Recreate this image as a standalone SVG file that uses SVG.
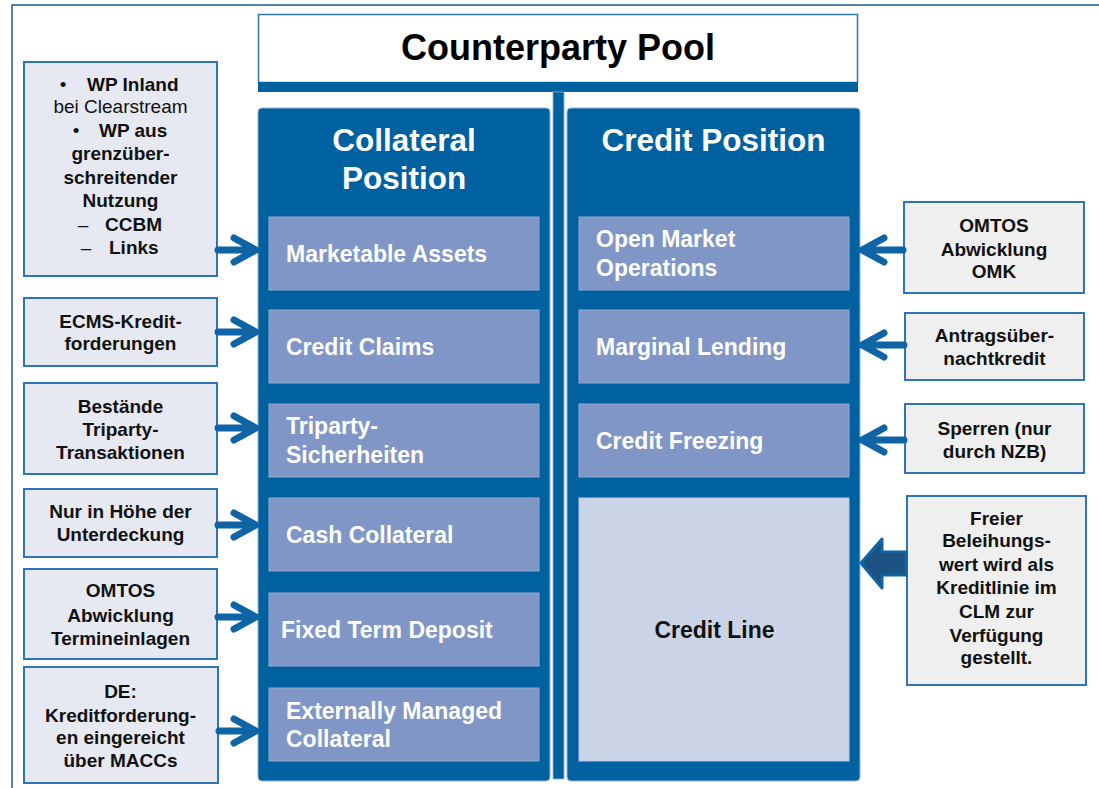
<svg xmlns="http://www.w3.org/2000/svg" width="1099" height="788" viewBox="0 0 1099 788">
<defs>
<style>
text{font-family:"Liberation Sans",Arial,sans-serif;}
.frame{fill:none;stroke:#1d5c8c;stroke-width:1.5;}
.col{fill:#0061a0;stroke:#8fb3d6;stroke-width:1;}
.item{fill:#7f96c6;stroke:#93a8d2;stroke-width:1;}
.itemtxt{fill:#ffffff;font-weight:bold;font-size:23px;}
.coltxt{fill:#ffffff;font-weight:bold;font-size:31.5px;text-anchor:middle;}
.lbox{fill:#e6e9f1;stroke:#2f74b5;stroke-width:2;}
.rbox{fill:#efefef;stroke:#2f74b5;stroke-width:2;}
.btxt{fill:#111111;font-weight:bold;font-size:19px;text-anchor:middle;}
.btxt.st{text-anchor:start;}
.ntxt{fill:#111111;font-size:19px;}
.conn{fill:none;stroke:#0f64a6;stroke-width:7;stroke-linecap:round;stroke-linejoin:round;}
</style>
</defs>
<rect width="1099" height="788" fill="#ffffff"/>
<rect class="frame" x="12" y="5" width="1100" height="800"/>

<g id="title">
<rect x="258.5" y="14.5" width="599" height="68" fill="#ffffff" stroke="#2e75b6" stroke-width="1.5"/>
<rect x="258" y="82" width="600" height="10" fill="#0061a0"/>
<text x="558" y="60" font-size="36" font-weight="bold" text-anchor="middle" fill="#000000">Counterparty Pool</text>
</g>

<g id="stem">
<rect x="553" y="92" width="11" height="687" fill="#0061a0" stroke="#8fb3d6" stroke-width="0.8"/>
</g>

<g id="collateral-position">
<rect class="col" x="258" y="108" width="292" height="673" rx="4"/>
<text class="coltxt" x="404" y="151">Collateral</text>
<text class="coltxt" x="404" y="189">Position</text>
</g>

<g id="credit-position">
<rect class="col" x="567" y="108" width="293" height="673" rx="4"/>
<text class="coltxt" x="713.5" y="151">Credit Position</text>
</g>

<g id="marketable-assets">
<rect class="item" x="269" y="217" width="270" height="73"/>
<text class="itemtxt" x="286" y="262">Marketable Assets</text>
</g>
<g id="credit-claims">
<rect class="item" x="269" y="310" width="270" height="73"/>
<text class="itemtxt" x="286" y="355">Credit Claims</text>
</g>
<g id="triparty-sicherheiten">
<rect class="item" x="269" y="404" width="270" height="73"/>
<text class="itemtxt" x="286" y="434">Triparty-</text>
<text class="itemtxt" x="286" y="463">Sicherheiten</text>
</g>
<g id="cash-collateral">
<rect class="item" x="269" y="498" width="270" height="73"/>
<text class="itemtxt" x="286" y="543">Cash Collateral</text>
</g>
<g id="fixed-term-deposit">
<rect class="item" x="269" y="593" width="270" height="73"/>
<text class="itemtxt" x="281" y="638">Fixed Term Deposit</text>
</g>
<g id="externally-managed-collateral">
<rect class="item" x="269" y="688" width="270" height="73"/>
<text class="itemtxt" x="286" y="719">Externally Managed</text>
<text class="itemtxt" x="286" y="747">Collateral</text>
</g>

<g id="open-market-operations">
<rect class="item" x="579" y="217" width="270" height="73"/>
<text class="itemtxt" x="596" y="247">Open Market</text>
<text class="itemtxt" x="596" y="276">Operations</text>
</g>
<g id="marginal-lending">
<rect class="item" x="579" y="310" width="270" height="73"/>
<text class="itemtxt" x="596" y="355">Marginal Lending</text>
</g>
<g id="credit-freezing">
<rect class="item" x="579" y="404" width="270" height="73"/>
<text class="itemtxt" x="596" y="449">Credit Freezing</text>
</g>
<g id="credit-line">
<rect x="579" y="498" width="270" height="263" fill="#cbd3e6" stroke="#b9c6df" stroke-width="1"/>
<text x="714.5" y="638" font-size="23" font-weight="bold" text-anchor="middle" fill="#111111">Credit Line</text>
</g>

<g id="wp-inland">
<rect class="lbox" x="24" y="62" width="193" height="214"/>
<text class="ntxt" x="63" y="91" text-anchor="middle">•</text>
<text class="btxt st" x="87" y="91">WP Inland</text>
<text class="ntxt" x="120.5" y="113" text-anchor="middle">bei Clearstream</text>
<text class="ntxt" x="76" y="137" text-anchor="middle">•</text>
<text class="btxt st" x="99" y="137">WP aus</text>
<text class="btxt" x="120.5" y="160">grenzüber-</text>
<text class="btxt" x="120.5" y="184">schreitender</text>
<text class="btxt" x="120.5" y="207">Nutzung</text>
<text class="ntxt" x="83" y="231" text-anchor="middle" fill="#444">–</text>
<text class="btxt st" x="105" y="231">CCBM</text>
<text class="ntxt" x="86" y="254" text-anchor="middle" fill="#444">–</text>
<text class="btxt st" x="109" y="254">Links</text>
</g>
<g id="ecms">
<rect class="lbox" x="24" y="298" width="193" height="68"/>
<text class="btxt" x="120.5" y="328">ECMS-Kredit-</text>
<text class="btxt" x="120.5" y="350">forderungen</text>
</g>
<g id="bestaende">
<rect class="lbox" x="24" y="383" width="193" height="91"/>
<text class="btxt" x="120.5" y="413">Bestände</text>
<text class="btxt" x="120.5" y="436">Triparty-</text>
<text class="btxt" x="120.5" y="459">Transaktionen</text>
</g>
<g id="nur-in-hoehe">
<rect class="lbox" x="24" y="489" width="193" height="68"/>
<text class="btxt" x="120.5" y="518">Nur in Höhe der</text>
<text class="btxt" x="120.5" y="541">Unterdeckung</text>
</g>
<g id="omtos-termineinlagen">
<rect class="lbox" x="24" y="569" width="193" height="90"/>
<text class="btxt" x="120.5" y="597">OMTOS</text>
<text class="btxt" x="120.5" y="622">Abwicklung</text>
<text class="btxt" x="120.5" y="645">Termineinlagen</text>
</g>
<g id="de-maccs">
<rect class="lbox" x="24" y="667" width="194" height="116"/>
<text class="btxt" x="120.5" y="698">DE:</text>
<text class="btxt" x="120.5" y="722">Kreditforderung-</text>
<text class="btxt" x="120.5" y="744">en eingereicht</text>
<text class="btxt" x="120.5" y="767">über MACCs</text>
</g>

<g id="omtos-omk">
<rect class="rbox" x="904" y="202" width="180" height="91"/>
<text class="btxt" x="994" y="232">OMTOS</text>
<text class="btxt" x="994" y="256">Abwicklung</text>
<text class="btxt" x="994" y="278">OMK</text>
</g>
<g id="antrag">
<rect class="rbox" x="905" y="313" width="179" height="67"/>
<text class="btxt" x="994.5" y="342">Antragsüber-</text>
<text class="btxt" x="994.5" y="365">nachtkredit</text>
</g>
<g id="sperren">
<rect class="rbox" x="905" y="404" width="179" height="69"/>
<text class="btxt" x="994.5" y="435">Sperren (nur</text>
<text class="btxt" x="994.5" y="458">durch NZB)</text>
</g>
<g id="freier">
<rect class="rbox" x="907" y="496" width="179" height="189"/>
<text class="btxt" x="996.5" y="525">Freier</text>
<text class="btxt" x="996.5" y="547">Beleihungs-</text>
<text class="btxt" x="996.5" y="571">wert wird als</text>
<text class="btxt" x="996.5" y="594">Kreditlinie im</text>
<text class="btxt" x="996.5" y="618">CLM zur</text>
<text class="btxt" x="996.5" y="642">Verfügung</text>
<text class="btxt" x="996.5" y="664">gestellt.</text>
</g>

<g id="connectors">
<path class="conn" d="M218 250 H256 M234 238 L256 250 L234 262"/>
<path class="conn" d="M218 332 H256 M234 320 L256 332 L234 344"/>
<path class="conn" d="M218 428 H256 M234 416 L256 428 L234 440"/>
<path class="conn" d="M218 525 H256 M234 513 L256 525 L234 537"/>
<path class="conn" d="M218 617 H256 M234 605 L256 617 L234 629"/>
<path class="conn" d="M219 731 H256 M234 719 L256 731 L234 743"/>
<path class="conn" d="M903 250 H862 M884 238 L862 250 L884 262"/>
<path class="conn" d="M904 345 H862 M884 333 L862 345 L884 357"/>
<path class="conn" d="M904 440 H862 M884 428 L862 440 L884 452"/>
<path d="M906 552 H882 V539 L861 563 L882 588 V575 H906 Z" fill="#1c5282" stroke="#0f64a6" stroke-width="3" stroke-linejoin="round"/>
</g>
</svg>
